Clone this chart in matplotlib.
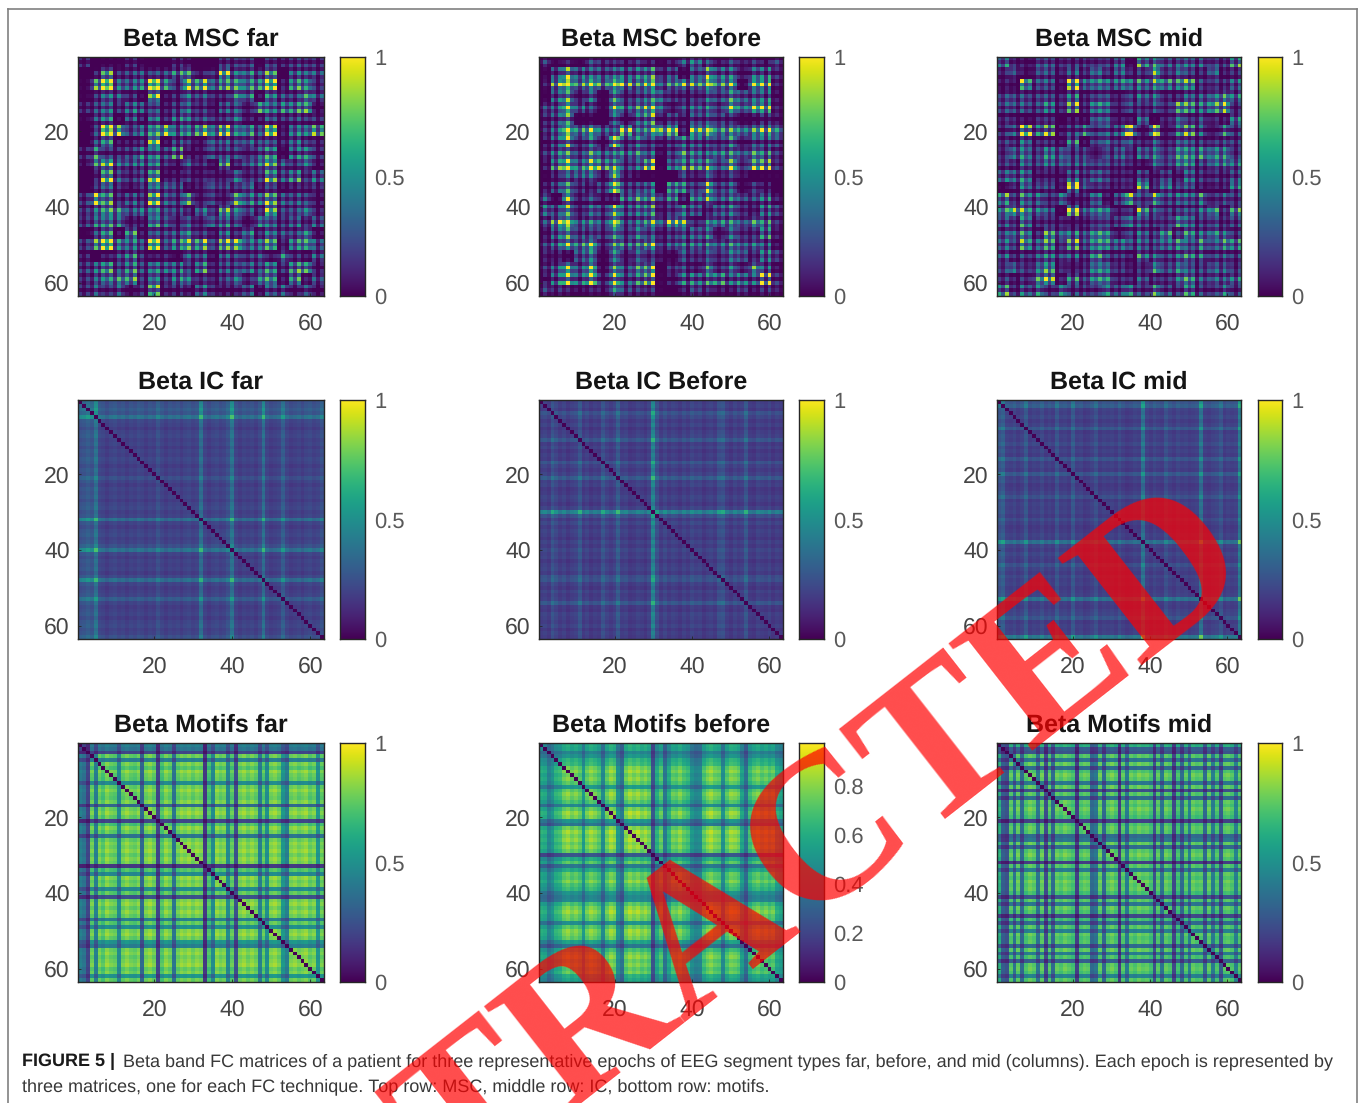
import numpy as np
import matplotlib
matplotlib.use("Agg")
import matplotlib.pyplot as plt
from matplotlib.lines import Line2D

# NOTE ON DATA: the reference has 63x63 cells per panel, which could not be read one by one.
# All values below are rough visual estimates, so individual cells are NOT exact readings.
# MSC panels: estimated 21x21 block grids (3-channel blocks, digit/10), modulated by a per-channel
# texture whose digits are largely hand-typed to give a speckled look, not read channel by channel.
# IC and Motifs panels: estimated per-channel band profiles whose pairwise product rebuilds the
# plaid, with a contrast and scale adjustment and a zero diagonal.
CHANNELS = 63
TITLES = [["Beta MSC far", "Beta MSC before", "Beta MSC mid"],
          ["Beta IC far", "Beta IC Before", "Beta IC mid"],
          ["Beta Motifs far", "Beta Motifs before", "Beta Motifs mid"]]
TICKS = [20, 40, 60]
CBAR_MAX = [[1, 1, 1], [1, 1, 1], [1, 0.975, 1]]
CBAR_TICKS = [0, 0.5, 1]
CBAR_TICKS_BEFORE = [0, 0.2, 0.4, 0.6, 0.8]

msc_far = ["2010210 0110014 2030422", "0130132 2331262 5150231", "0576158 4145172 8251261",
           "1303214 1254114 3151183", "2462535 1163146 2611471", "0110312 1102112 1121202",
           "0278145 8249281 8161167", "0351227 1331543 5431731", "2421455 2412321 2460552",
           "1572264 1132162 3353160", "0151122 1011101 1101102", "0263238 3312443 7241322",
           "3612224 2232114 2362321", "1586258 3416275 3162671", "3205111 2132153 1303213",
           "1471715 2263143 6262471", "1372727 2159136 6141362", "3014921 2134133 1414314",
           "2585938 2349131 6361752", "2211531 1213121 2221612", "2423114 2124212 3132131"]
msc_before = ["2110321 1310124 3141312", "0365264 3452103 7461442", "1586487 5360172 8361762",
              "1352113 3362122 4283361", "1486215 2476032 5381761", "1010001 0121011 1111011",
              "2388663 6467816 9375674", "1351428 2412154 2251423", "1574675 4620284 4574852",
              "1483584 3560163 3372663", "1278228 1210052 8250100", "1473248 3350462 6351310",
              "3121111 1220112 2121111", "3382447 2561253 2362142", "2584258 3470681 4153622",
              "1364136 2421143 7162241", "1375735 4571263 5263521", "1103502 1212031 2142132",
              "1476826 2570142 5252752", "1362725 3451153 6453262", "2101114 1201012 1111011"]
msc_mid = ["3221221 3121036 2242223", "1313224 1324107 2431312", "0162318 3331073 6351121",
           "3232231 2231123 1252284", "2322327 1251124 2573272", "1110101 1011110 1111011",
           "2276212 4141817 1583162", "1351215 1232114 1353232", "2452563 3124153 2574362",
           "2252262 5332014 2354264", "4261114 2121031 2141111", "1273317 5232172 6341122",
           "5414161 2111322 2336143", "2684119 3541183 2242522", "3232121 2232132 2332214",
           "3361462 3461132 6273432", "2261232 1252131 4232162", "3233342 1412114 2363142",
           "2435731 2562124 3453363", "2223623 3452122 3552142", "6264182 3254618 1272172"]
# per-channel texture, digit/5
msc_far_tex = "526283748 273526382 647263728 472638452 738264537 263847273 526374726"
msc_before_tex = "273627483 526384726 374827263 638452737 482736274 637263847 263728473"
msc_mid_tex = "638462735 274837264 728263647 462738572 836274637 274736283 547263627"

ic_far = [.56,.58,.62,.58,.72,.52,.5,.46,.5,.52,.48,.5,.46,.5,.48,.52,.5,.46,.5,.48,.56,.5,.46,.5,.48,
          .5,.46,.5,.52,.48,.5,.7,.5,.46,.5,.52,.48,.5,.56,.72,.5,.46,.5,.48,.5,.46,.52,.7,.5,.46,
          .48,.5,.62,.5,.46,.48,.5,.46,.5,.52,.48,.5,.56]
ic_before = [.48,.5,.46,.58,.52,.46,.5,.44,.48,.5,.6,.46,.5,.44,.48,.46,.58,.5,.46,.5,.62,.48,.5,.44,.46,
             .5,.48,.44,.5,.8,.56,.46,.52,.46,.5,.48,.44,.5,.46,.52,.48,.5,.44,.48,.5,.46,.56,.58,.48,.44,
             .5,.46,.48,.6,.46,.44,.5,.48,.46,.5,.44,.48,.46]
ic_mid = [.6,.66,.5,.48,.52,.46,.5,.62,.46,.5,.48,.54,.46,.5,.46,.6,.48,.5,.46,.62,.48,.5,.44,.46,.5,
          .58,.46,.5,.48,.5,.46,.54,.48,.44,.46,.5,.48,.76,.5,.46,.52,.48,.46,.58,.5,.46,.52,.48,.5,.46,
          .48,.5,.76,.48,.46,.5,.52,.6,.46,.5,.48,.5,.8]
motifs_far = [.55,.5,.3,.9,.55,.92,.85,.95,.9,.88,.6,.9,.95,.9,.88,.93,.45,.92,.96,.9,.3,.85,.95,.9,.5,
              .9,.95,.92,.96,.9,.95,.92,.25,.85,.6,.95,.9,.93,.6,.88,.35,.92,.96,.9,.95,.9,.55,.88,.62,.93,
              .96,.9,.65,.55,.92,.95,.9,.93,.96,.88,.92,.65,.9]
motifs_before = [.72,.7,.55,.62,.75,.78,.88,.92,.86,.9,.84,.64,.86,.92,.88,.82,.58,.86,.94,.9,.62,.5,.88,.95,.9,
                 .94,.88,.92,.86,.36,.72,.84,.5,.72,.86,.84,.9,.82,.78,.62,.56,.58,.82,.9,.94,.88,.86,.6,.84,.92,
                 .9,.86,.68,.48,.78,.86,.9,.84,.88,.82,.86,.72,.68]
motifs_mid = [.8,.45,.4,.9,.55,.92,.5,.88,.94,.9,.55,.92,.38,.9,.5,.92,.88,.94,.9,.86,.32,.88,.92,.9,.5,
              .55,.92,.5,.9,.94,.88,.3,.9,.58,.92,.88,.94,.9,.92,.86,.4,.9,.55,.92,.88,.35,.86,.5,.9,.6,
              .92,.88,.9,.5,.92,.58,.88,.45,.9,.92,.88,.6,.9]
CAPTION_BOLD = "FIGURE 5 | "
CAPTION_1 = ("Beta band FC matrices of a patient for three representative epochs of EEG segment types "
             "far, before, and mid (columns). Each epoch is represented by")
CAPTION_2 = "three matrices, one for each FC technique. Top row: MSC, middle row: IC, bottom row: motifs."
WATERMARK = "RETRACTED"

W, H = 1360, 1103
plt.rcParams["font.family"] = ["Liberation Sans", "DejaVu Sans"]
plt.rcParams["text.hinting"] = "no_hinting"
plt.rcParams["text.hinting_factor"] = 1
fig = plt.figure(figsize=(W / 100, H / 100), dpi=100, facecolor="white")


def px_axes(x0, y0, x1, y1):
    return fig.add_axes([x0 / W, 1 - y1 / H, (x1 - x0) / W, (y1 - y0) / H])


def msc_matrix(rows, tex):
    g = np.array([[int(c) / 10 for c in r.replace(" ", "")] for r in rows])
    g = (g + g.T) / 2
    t = np.array([int(c) / 5 for c in tex.replace(" ", "")])
    m = np.kron(g, np.ones((3, 3))) * np.outer(t, t) * 0.9 - 0.05
    return np.clip(m, 0, 1)


def plaid_matrix(p, scale=1.0, contrast=1.0):
    p = np.array(p)
    p = p.mean() * (p / p.mean()) ** contrast * scale
    m = np.outer(p, p)
    np.fill_diagonal(m, 0)
    return m


MATS = [[msc_matrix(msc_far, msc_far_tex), msc_matrix(msc_before, msc_before_tex), msc_matrix(msc_mid, msc_mid_tex)],
        [plaid_matrix(ic_far, 0.93, 1.7), plaid_matrix(ic_before, 0.92, 1.7), plaid_matrix(ic_mid, 0.92, 1.5)],
        [plaid_matrix(motifs_far, 0.94, 1.2), plaid_matrix(motifs_before, 0.96, 1.2), plaid_matrix(motifs_mid, 0.9, 1.3)]]

COLX = [(78, 324, 340, 365), (539, 783, 799, 824), (997, 1241, 1258, 1282)]
ROWY = [(57, 296), (400, 639), (743, 982)]
DARK = (0.15, 0.15, 0.15)
GREY = (0.27, 0.27, 0.27)

for r, (y0, y1) in enumerate(ROWY):
    for c, (x0, x1, cx0, cx1) in enumerate(COLX):
        ax = px_axes(x0, y0, x1, y1)
        vmax = CBAR_MAX[r][c]
        ax.imshow(MATS[r][c], cmap="viridis", vmin=0, vmax=vmax, aspect="auto",
                  interpolation="nearest", extent=(0.5, CHANNELS + 0.5, CHANNELS + 0.5, 0.5))
        ax.set_xticks(TICKS)
        ax.set_yticks(TICKS)
        ax.tick_params(axis="x", direction="in", length=2, width=0.6, color=DARK,
                       labelsize=16.5, labelcolor=GREY, pad=12.5)
        ax.tick_params(axis="y", direction="in", length=2, width=0.6, color=DARK,
                       labelsize=16.5, labelcolor=GREY, pad=6)
        for s in ax.spines.values():
            s.set_color(DARK)
            s.set_linewidth(1.0)
        ax.set_title(TITLES[r][c], fontsize=18.2, fontweight="bold", color=(0.08, 0.08, 0.08), pad=7.8)

        cax = px_axes(cx0, y0, cx1, y1)
        grad = np.linspace(vmax, 0, 256).reshape(-1, 1)
        cax.imshow(grad, cmap="viridis", vmin=0, vmax=vmax, aspect="auto", extent=(0, 1, 0, vmax))
        cax.set_xticks([])
        cax.yaxis.tick_right()
        ticks = CBAR_TICKS_BEFORE if vmax < 1 else CBAR_TICKS
        cax.set_yticks(ticks)
        cax.set_yticklabels([f"{t:g}" for t in ticks])
        cax.tick_params(axis="y", direction="in", length=0, labelsize=15.5,
                        labelcolor=(0.35, 0.35, 0.35), pad=6.5)
        for s in cax.spines.values():
            s.set_color(DARK)
            s.set_linewidth(1.0)

# figure frame
for xs, ys in [((8, 8), (9, H)), ((8, 1357), (9, 9)), ((1357, 1357), (9, H))]:
    fig.add_artist(Line2D([x / W for x in xs], [1 - y / H for y in ys], color=(0.5, 0.5, 0.5), lw=1.2))

# caption
CAP_COLOR = (0.22, 0.22, 0.22)
fig.text(22 / W, 1 - 1066.5 / H, CAPTION_BOLD, fontsize=13.1, fontweight="bold", color=(0.1, 0.1, 0.1),
         va="baseline", ha="left")
fig.text(123 / W, 1 - 1066.5 / H, CAPTION_1, fontsize=13.1, color=CAP_COLOR, va="baseline", ha="left")
fig.text(22 / W, 1 - 1091.5 / H, CAPTION_2, fontsize=13.1, color=CAP_COLOR, va="baseline", ha="left")

# watermark
fig.text(712 / W, 1 - 935 / H, WATERMARK, fontsize=150, family="Liberation Serif", fontweight="bold",
         color=(1, 0, 0), alpha=0.7, rotation=38, rotation_mode="anchor", ha="center", va="center", zorder=50)

fig.savefig("out.png", dpi=100)
